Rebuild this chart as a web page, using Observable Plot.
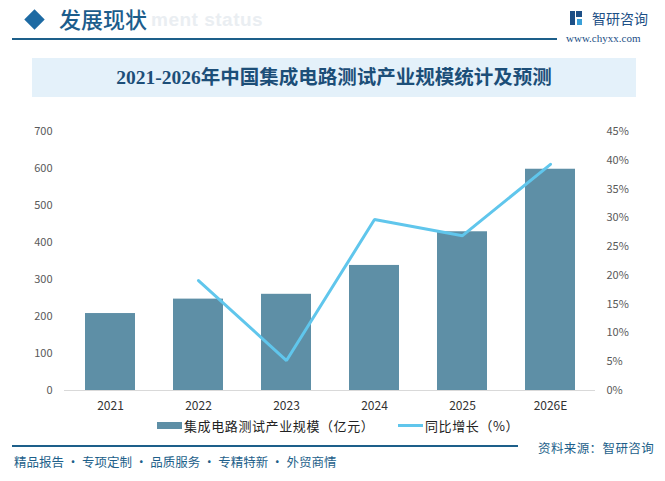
<!DOCTYPE html>
<html>
<head>
<meta charset="utf-8">
<script src="https://cdn.jsdelivr.net/npm/d3@7"></script>
<script src="https://cdn.jsdelivr.net/npm/@observablehq/plot@0.6"></script>
<style>
  html, body { margin: 0; padding: 0; background: #fff; }
  #wrap { position: relative; width: 665px; height: 481px; overflow: hidden; background: #fff;
          font-family: "Noto Sans CJK SC", "Noto Sans", sans-serif; }
  .abs { position: absolute; white-space: nowrap; }
  #chart { position: absolute; left: 0; top: 100px; }
</style>
</head>
<body>
<div id="wrap">
  <div class="abs" style="left:151px;top:9px;font:bold 19px 'Liberation Sans',Arial,sans-serif;color:#eaeef2;letter-spacing:0.5px;">ment status</div>
  <div class="abs" style="left:24px;top:10px;width:17px;height:17px;background:#1d6aa3;transform:translate(2px,1px) rotate(45deg) scale(0.85);"></div>
  <div class="abs" style="left:59px;top:3px;font-size:22px;font-weight:500;color:#1c5d8c;line-height:30px;">发展现状</div>
  <div class="abs" style="left:12px;top:38px;width:545px;height:2px;background:#1d5f8a;"></div>
  <div class="abs" style="left:570px;top:11px;width:12px;height:14px;">
    <div style="position:absolute;left:0;top:0;width:5px;height:14px;background:#1d4f86;"></div>
    <div style="position:absolute;left:6px;top:0;width:6px;height:6px;background:#1d4f86;"></div>
    <div style="position:absolute;left:7px;top:8px;width:5px;height:6px;background:#3aa0d8;"></div>
  </div>
  <div class="abs" style="left:592px;top:7px;font-size:14px;color:#1d4f86;line-height:22px;">智研咨询</div>
  <div class="abs" style="left:566px;top:31px;font:11px 'Liberation Serif','DejaVu Serif',serif;color:#1d4f86;line-height:14px;">www.chyxx.com</div>

  <div class="abs" style="left:32px;top:58px;width:604px;height:39px;background:#e4f1fa;"></div>
  <div class="abs" id="title" style="left:32px;top:58px;width:604px;height:39px;line-height:39px;text-align:center;font-family:'Liberation Serif','Noto Sans CJK SC',serif;font-size:19.5px;font-weight:bold;color:#1c4e78;">2021-2026年中国集成电路测试产业规模统计及预测</div>

  <div id="chart"></div>

  <div class="abs" style="left:157px;top:422px;width:25px;height:7px;background:#5e8fa6;"></div>
  <div class="abs" style="left:184px;top:416px;font-size:13px;line-height:19px;color:#222;letter-spacing:0.6px;">集成电路测试产业规模（亿元）</div>
  <div class="abs" style="left:398px;top:424px;width:25px;height:3px;background:#60c6ec;"></div>
  <div class="abs" style="left:425px;top:416px;font-size:13px;line-height:19px;color:#222;letter-spacing:0.6px;">同比增长（%）</div>

  <div class="abs" style="left:12px;top:445px;width:506px;height:1.5px;background:#1d5f8a;"></div>
  <div class="abs" style="left:538px;top:438px;font-size:12.5px;line-height:19px;color:#1d5f8a;letter-spacing:0.4px;">资料来源：智研咨询</div>
  <div class="abs" style="left:14px;top:452px;font-size:12.5px;line-height:19px;color:#1d5f8a;">精品报告 · 专项定制 · 品质服务 · 专精特新 · 外贸商情</div>
</div>
<script>
const years = ["2021", "2022", "2023", "2024", "2025", "2026E"];
const scaleValues = [208, 247, 260, 338, 429, 598];
const growthValues = [null, 19.1, 5.2, 29.7, 26.9, 39.3];
const leftTicks = [0, 100, 200, 300, 400, 500, 600, 700];
const rightTicks = [0, 5, 10, 15, 20, 25, 30, 35, 40, 45];

const yMax = 700, rMax = 45;
const k = yMax / rMax;

const bars = years.map((y, i) => ({year: y, value: scaleValues[i]}));
const line = years.map((y, i) => ({year: y, g: growthValues[i]})).filter(d => d.g != null);

const chart = Plot.plot({
  width: 665,
  height: 320,
  marginTop: 31,
  marginBottom: 30,
  marginLeft: 64,
  marginRight: 70,
  style: {background: "transparent", fontFamily: "'Noto Sans CJK SC', sans-serif", overflow: "visible"},
  x: {domain: years, paddingInner: 0.435, paddingOuter: 0.2175, label: null},
  y: {domain: [0, yMax], label: null},
  marks: [
    Plot.barY(bars, {x: "year", y: "value", fill: "#5e8fa6"}),
    Plot.ruleY([0], {stroke: "#d9d9d9", strokeWidth: 1}),
    Plot.line(line, {x: "year", y: d => d.g * k, stroke: "#60c6ec", strokeWidth: 3, strokeLinejoin: "miter"}),
    Plot.axisX({tickSize: 0, tickPadding: 11, fontSize: 12, color: "#333", label: null}),
    Plot.axisY({ticks: leftTicks, tickSize: 0, tickPadding: 12, fontSize: 11, color: "#595959", label: null}),
    Plot.axisY({anchor: "right", ticks: rightTicks.map(v => v * k), tickFormat: v => Math.round(v / k) + "%", tickSize: 0, tickPadding: 11, fontSize: 11, color: "#595959", textAnchor: "start", label: null})
  ]
});
document.getElementById("chart").appendChild(chart);
</script>
</body>
</html>
